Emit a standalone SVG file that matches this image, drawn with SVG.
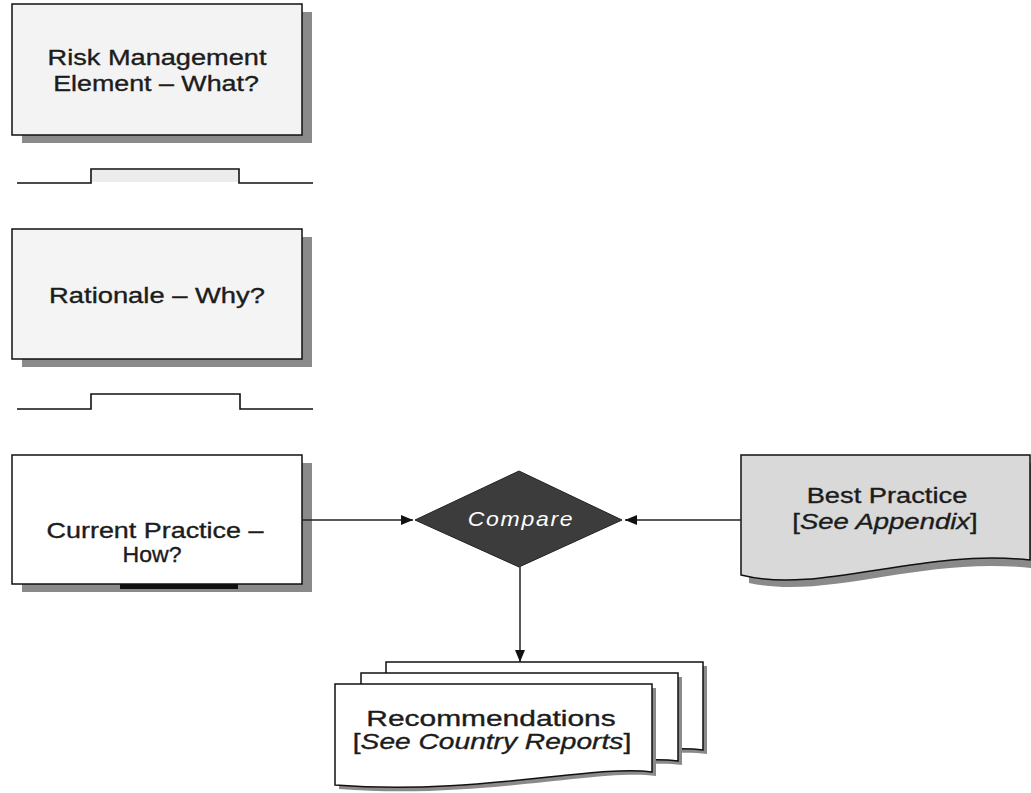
<svg xmlns="http://www.w3.org/2000/svg" width="1031" height="793" viewBox="0 0 1031 793">
<style>
.t{font-family:"Liberation Sans",Arial,sans-serif;font-size:22px;fill:#1c1c1c;stroke:#1c1c1c;stroke-width:0.35;text-anchor:middle}
.i{font-style:italic}
.box{stroke:#111;stroke-width:1.5}
.sh{fill:#8a8a8a}
.sep{fill:none;stroke:#111;stroke-width:1.6}
.con{fill:none;stroke:#222;stroke-width:1.5}
.page{fill:#fff;stroke:#111;stroke-width:1.5}
</style>
<defs>
<marker id="ah" viewBox="0 0 12 10" refX="12" refY="5" markerWidth="12" markerHeight="10" markerUnits="userSpaceOnUse" orient="auto">
<path d="M0,0 L12,5 L0,10 z" fill="#111"/>
</marker>
<path id="doc" d="M0,0 H317 V88 C260,80 140,112 0,101 Z"/>
</defs>
<rect width="1031" height="793" fill="#fff"/>

<g id="risk-element">
<rect class="sh" x="22" y="12" width="290" height="131"/>
<rect class="box" x="12" y="4" width="290" height="131" fill="#f3f3f3"/>
<text class="t" transform="translate(157 65) scale(1.235 1)">Risk Management</text>
<text class="t" transform="translate(156 91) scale(1.22 1)">Element – What?</text>
</g>

<g id="separator-1">
<path class="sep" d="M17,183 H91 V169 H239 V183 H313"/>
<rect x="92" y="170" width="146" height="12" fill="#ececec"/>
</g>

<g id="rationale">
<rect class="sh" x="22" y="237" width="290" height="130"/>
<rect class="box" x="12" y="229" width="290" height="130" fill="#f4f4f4"/>
<text class="t" transform="translate(157 303) scale(1.244 1)">Rationale – Why?</text>
</g>

<g id="separator-2">
<path class="sep" d="M17,409 H91 V394 H240 V409 H313"/>
</g>

<g id="current-practice">
<rect class="sh" x="22" y="463" width="290" height="129"/>
<rect x="120" y="583" width="118" height="6" fill="#111"/>
<rect class="box" x="12" y="455" width="290" height="129" fill="#fff"/>
<text class="t" transform="translate(155 538) scale(1.224 1)">Current Practice –</text>
<text class="t" transform="translate(152 562) scale(1.05 1)">How?</text>
</g>

<g id="compare">
<path d="M519,471 L622,520 L519,567 L415,520 Z" fill="#3c3c3c" stroke="#222" stroke-width="1"/>
<text class="t i" transform="translate(521 526) scale(1.15 1)" style="font-size:20px;fill:#fff;stroke:none;letter-spacing:1.5px">Compare</text>
</g>

<g id="best-practice">
<path class="sh" d="M749,463 H1031 V568 C920,556 830,600 749,583 Z"/>
<path class="box" d="M741,455 H1030 V560 C920,548 820,595 741,575 Z" fill="#d9d9d9"/>
<text class="t" transform="translate(887 503) scale(1.24 1)">Best Practice</text>
<text class="t" transform="translate(885 529) scale(1.25 1)">[<tspan class="i">See Appendix</tspan>]</text>
</g>

<g id="recommendations">
<use href="#doc" class="sh" transform="translate(390 666)"/>
<use href="#doc" class="page" transform="translate(386 662)"/>
<use href="#doc" class="sh" transform="translate(365 677)"/>
<use href="#doc" class="page" transform="translate(361 673)"/>
<use href="#doc" class="sh" transform="translate(339 688)"/>
<use href="#doc" class="page" transform="translate(335 684)"/>
<text class="t" transform="translate(491 726) scale(1.36 1)">Recommendations</text>
<text class="t" transform="translate(492 749) scale(1.28 1)">[<tspan class="i">See Country Reports</tspan>]</text>
</g>

<g id="connectors">
<line class="con" x1="302" y1="520" x2="413" y2="520" marker-end="url(#ah)"/>
<line class="con" x1="741" y1="520" x2="625" y2="520" marker-end="url(#ah)"/>
<line class="con" x1="520" y1="567" x2="520" y2="662" marker-end="url(#ah)"/>
</g>
</svg>
